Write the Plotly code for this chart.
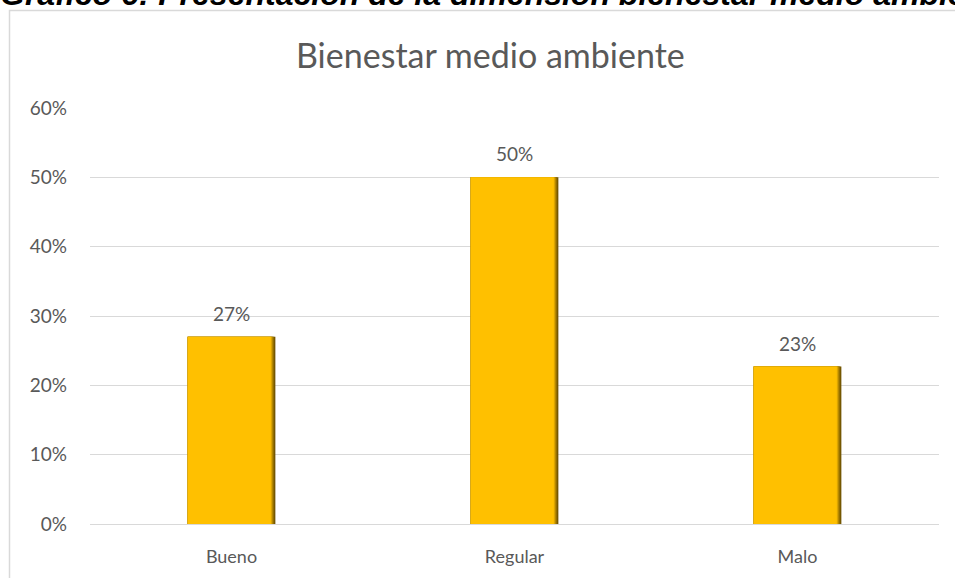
import plotly.graph_objects as go

categories = ["Bueno", "Regular", "Malo"]
values = [0.27, 0.50, 0.227]
value_labels = ["27%", "50%", "23%"]
y_ticks = [0, 0.1, 0.2, 0.3, 0.4, 0.5, 0.6]
y_tick_labels = ["0%", "10%", "20%", "30%", "40%", "50%", "60%"]

W, H = 955, 578
ML, MR, MT, MB = 90, 16, 108, 54
PW, PH = W - ML - MR, H - MT - MB

def px_x(p):
    return (p - ML) / PW

def px_y(p):
    return (H - MB - p) / PH

fig = go.Figure()

# layered bars to mimic the shaded right edge
layers = [
    (0.310, "#6E5200"),
    (0.306, "#8F6C00"),
    (0.302, "#B48700"),
    (0.298, "#DCA600"),
    (0.294, "#FFC000"),
]
bw = layers[0][0]
for w, c in layers:
    fig.add_trace(go.Bar(
        x=categories, y=values, width=w, offset=-bw / 2,
        marker=dict(color=c, line=dict(width=0)),
        hoverinfo="skip", showlegend=False,
    ))

for cat, v, lab in zip(categories, values, value_labels):
    fig.add_annotation(x=cat, y=v, text=lab, showarrow=False,
                       yanchor="bottom", yshift=10,
                       font=dict(family="Lato", size=19, color="#595959"))

# chart title
fig.add_annotation(xref="paper", yref="paper", x=px_x(490), y=px_y(55),
                   text="Bienestar medio ambiente", showarrow=False,
                   xanchor="center", yanchor="middle",
                   font=dict(family="Lato", size=34, color="#595959"))

# cropped document heading
fig.add_annotation(xref="paper", yref="paper", x=px_x(-2), y=px_y(-6),
                   text="<b><i>Gráfico 6: Presentación de la dimensión bienestar medio ambiente</i></b>",
                   showarrow=False, xanchor="left", yanchor="middle",
                   font=dict(family="Liberation Sans", size=32, color="#000000"))

# chart area border
fig.add_shape(type="rect", xref="paper", yref="paper",
              x0=px_x(9.5), x1=px_x(1000), y0=px_y(700), y1=px_y(10.5),
              line=dict(color="#D9D9D9", width=1.5), fillcolor="rgba(0,0,0,0)",
              layer="below")

fig.update_layout(
    width=W, height=H,
    margin=dict(l=ML, r=MR, t=MT, b=MB),
    paper_bgcolor="white", plot_bgcolor="white",
    barmode="overlay",
    showlegend=False,
    xaxis=dict(showgrid=False, showline=False, ticks="",
               ticklabelstandoff=20,
               tickfont=dict(family="Lato", size=18, color="#595959"),
               fixedrange=True),
    yaxis=dict(range=[0, 0.6], tickvals=y_ticks, ticktext=y_tick_labels,
               showgrid=True, gridcolor="#D9D9D9", gridwidth=1,
               zeroline=True, zerolinecolor="#D9D9D9", zerolinewidth=1,
               showline=False, ticks="", ticklabelstandoff=22,
               tickfont=dict(family="Lato", size=19, color="#595959"),
               fixedrange=True),
)

fig.write_html("out.html", config={"displayModeBar": False},
               post_script="document.body.style.margin='0';document.body.style.overflow='hidden';")
